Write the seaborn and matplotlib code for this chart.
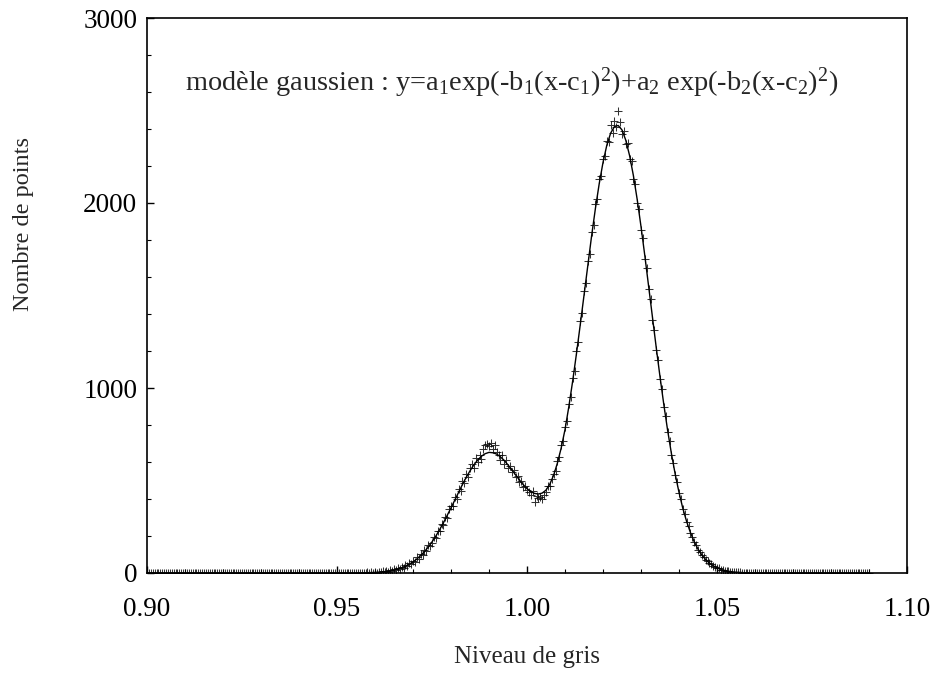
import numpy as np
import pandas as pd
import matplotlib
matplotlib.use("Agg")
import matplotlib.pyplot as plt
import seaborn as sns

# ---------------- data ----------------
# histogram bins: 0.9000 .. 1.0900, step 0.0005
bin_start = 0.900
bin_step = 0.0005

counts_left = [  # 0.9000 .. 0.9545
    0, 1, 0, 0, 2, 0, 1, 0, 0, 1,
    1, 0, 0, 2, 0, 0, 1, 0, 1, 0,
    0, 0, 1, 0, 0, 2, 0, 1, 0, 0,
    1, 0, 0, 1, 0, 0, 0, 2, 0, 1,
    0, 1, 0, 0, 1, 0, 2, 0, 0, 1,
    0, 0, 1, 0, 1, 0, 0, 2, 0, 0,
    1, 0, 0, 1, 0, 0, 1, 0, 2, 0,
    0, 1, 0, 0, 1, 2, 0, 0, 1, 0,
    1, 0, 2, 0, 0, 1, 0, 1, 0, 2,
    0, 1, 0, 2, 1, 0, 1, 0, 2, 1,
    1, 0, 2, 1, 0, 1, 2, 0, 1, 1,
]
counts_mid = [  # 0.9550 .. 1.0620
    0, 1, 0, 2, 1, 0, 3, 1, 4, 2,                      # 0.9550
    5, 2, 7, 4, 9, 5, 12, 8, 15, 11,                   # 0.9600
    20, 15, 26, 21, 33, 27, 42, 36, 55, 47,            # 0.9650
    67, 60, 84, 78, 101, 96, 124, 118, 151, 145,       # 0.9700
    160, 192, 190, 228, 226, 266, 262, 305, 300, 345,  # 0.9750
    364, 360, 410, 402, 452, 442, 496, 485, 534, 520,  # 0.9800
    570, 590, 566, 620, 598, 640, 615, 668, 690, 700,  # 0.9850
    684, 703, 672, 692, 655, 640, 612, 636, 590, 612,  # 0.9900
    566, 580, 545, 556, 520, 526, 492, 500, 466, 472,  # 0.9950
    448, 438, 420, 445, 384, 418, 405, 412, 398, 420,  # 1.0000
    440, 468, 471, 510, 536, 552, 605, 628, 690, 712,  # 1.0050
    790, 824, 915, 952, 1052, 1090, 1200, 1248, 1360, 1405,   # 1.0100
    1522, 1566, 1688, 1726, 1845, 1880, 1995, 2020, 2130, 2148,  # 1.0150
    2240, 2252, 2335, 2330, 2420, 2380, 2445, 2410, 2500, 2440,  # 1.0200
    2372, 2390, 2318, 2322, 2238, 2225, 2130, 2105, 2000, 1965,  # 1.0250
    1856, 1812, 1698, 1650, 1536, 1482, 1370, 1316, 1206, 1152,  # 1.0300
    1050, 996, 900, 850, 763, 716, 639, 596, 528, 490,  # 1.0350
    430, 398, 345, 318, 275, 252, 215, 197, 166, 151,   # 1.0400
    126, 116, 95, 88, 71, 65, 52, 48, 37, 35,           # 1.0450
    26, 25, 18, 18, 13, 12, 9, 8, 6, 6,                 # 1.0500
    4, 4, 3, 2, 2, 1, 1, 1, 1, 0,                       # 1.0550
    1, 0, 0, 0, 0,                                      # 1.0600
]
counts_right = [  # 1.0625 .. 1.0900
    0, 1, 0, 0, 1, 0, 0, 2, 0, 1,
    0, 0, 1, 0, 0, 1, 0, 0, 2, 0,
    1, 0, 0, 1, 0, 0, 1, 0, 0, 2,
    0, 1, 0, 0, 1, 0, 0, 1, 0, 0,
    2, 0, 1, 0, 0, 1, 0, 0, 1, 0,
    0, 1, 0, 0, 1, 0,
]

# fitted two-gaussian curve, sampled every 0.001 from 0.900 to 1.090
fit_start = 0.900
fit_step = 0.001
fit_values = [
    0, 0, 0, 0, 0, 0, 0, 0, 0, 0,        # 0.900
    0, 0, 0, 0, 0, 0, 0, 0, 0, 0,        # 0.910
    0, 0, 0, 0, 0, 0, 0, 0, 0, 0,        # 0.920
    0, 0, 0, 0, 0, 0, 0, 0, 0, 0,        # 0.930
    0, 0, 0, 0, 0, 0, 0, 0, 0, 0,        # 0.940
    0.05, 0.1, 0.1, 0.2, 0.3, 0.5, 0.7, 1.1, 1.6, 2.3,          # 0.950
    3.2, 4.6, 6.3, 8.7, 11.9, 16.1, 21.4, 28.2, 36.7, 47.2,     # 0.960
    60, 75.5, 94, 115, 140, 168, 199, 234, 271, 311,            # 0.970
    352, 394, 437, 478, 517, 552, 584, 610, 631, 645,           # 0.980
    652, 650, 643, 628, 609, 584, 558, 530, 503, 478,           # 0.990
    456, 440, 430, 427, 432, 448, 480, 528, 594, 676,           # 1.000
    775, 898, 1035, 1183, 1340, 1502, 1663, 1822, 1970, 2104,   # 1.010
    2219, 2312, 2377, 2413, 2419, 2395, 2339, 2256, 2148, 2019, # 1.020
    1873, 1716, 1551, 1384, 1220, 1061, 911, 772, 646, 534,     # 1.030
    436, 350, 279, 219, 169, 129, 98, 73, 54, 39,               # 1.040
    28, 20, 14, 9.5, 6.5, 4.3, 2.9, 1.9, 1.2, 0.8,              # 1.050
    0.5, 0.3, 0.2, 0, 0, 0, 0, 0, 0, 0,                         # 1.060
    0, 0, 0, 0, 0, 0, 0, 0, 0, 0,                               # 1.070
    0, 0, 0, 0, 0, 0, 0, 0, 0, 0,                               # 1.080
    0,                                                          # 1.090
]

x_ticks = [0.90, 0.95, 1.00, 1.05, 1.10]
x_ticklabels = ["0.90", "0.95", "1.00", "1.05", "1.10"]
y_ticks = [0, 1000, 2000, 3000]
y_ticklabels = ["0", "1000", "2000", "3000"]
x_label = "Niveau de gris"
y_label = "Nombre de points"
annotation = (r"modèle gaussien : y=a$_1$exp(-b$_1$(x-c$_1$)$^2$)"
              r"+a$_2$ exp(-b$_2$(x-c$_2$)$^2$)")

# ---------------- build tables ----------------
counts = counts_left + counts_mid + counts_right
hist_df = pd.DataFrame({
    "x": bin_start + bin_step * np.arange(len(counts)),
    "y": counts,
})
fit_df = pd.DataFrame({
    "x": fit_start + fit_step * np.arange(len(fit_values)),
    "y": fit_values,
})

# ---------------- style ----------------
sns.set_theme(style="ticks")
plt.rcParams["font.family"] = ["Liberation Serif", "DejaVu Serif"]
plt.rcParams["mathtext.fontset"] = "custom"
plt.rcParams["mathtext.rm"] = "Liberation Serif"
plt.rcParams["mathtext.it"] = "Liberation Serif:italic"
plt.rcParams["mathtext.default"] = "rm"

fig = plt.figure(figsize=(9.35, 6.99), dpi=100)
ax = fig.add_axes([147 / 935, 1 - 573 / 699, 760 / 935, 555 / 699])

sns.lineplot(data=fit_df, x="x", y="y", ax=ax, color="black",
             linewidth=1.0, sort=True, estimator=None)
sns.scatterplot(data=hist_df, x="x", y="y", ax=ax, marker="+",
                color="black", s=40, linewidth=0.75, alpha=0.8)

ax.set_xlim(0.90, 1.10)
ax.set_ylim(0, 3000)
ax.set_xticks(x_ticks)
ax.set_xticklabels(x_ticklabels)
ax.set_yticks(y_ticks)
ax.set_yticklabels(y_ticklabels)
ax.set_xticks(np.arange(0.90, 1.1001, 0.01), minor=True)
ax.set_yticks(np.arange(0, 3001, 200), minor=True)

ax.tick_params(axis="both", which="both", direction="in",
               top=False, right=False, labelsize=19.5, colors="black")
ax.tick_params(axis="x", which="major", length=5, width=1.0, pad=17)
ax.tick_params(axis="y", which="major", length=5, width=1.0, pad=7)
ax.tick_params(axis="both", which="minor", length=3, width=0.8)

for sp in ax.spines.values():
    sp.set_visible(True)
    sp.set_linewidth(1.2)
    sp.set_color("black")

ax.set_xlabel(x_label, fontsize=18)
ax.set_ylabel(y_label, fontsize=17.5)
ax.xaxis.set_label_coords(0.5, -0.131)
ax.yaxis.set_label_coords(-0.163, 0.629)
ax.yaxis.label.set_va("center")

ax.text(0.05, 0.870, annotation, transform=ax.transAxes, fontsize=20.4,
        ha="left", va="baseline")

ax.grid(False)
fig.savefig("out.png", dpi=100)
